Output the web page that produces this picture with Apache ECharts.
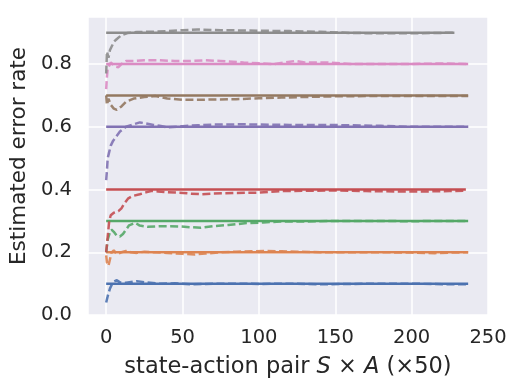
<!DOCTYPE html>
<html>
<head>
<meta charset="utf-8">
<script src="https://cdn.jsdelivr.net/npm/echarts@6/dist/echarts.min.js"></script>
<style>
  html, body { margin: 0; padding: 0; background: #fff; }
  #main { width: 519px; height: 392px; }
</style>
</head>
<body>
<div id="main"></div>
<script>
// true error rates (solid lines) and where each solid line stops
var trueRates = [0.1, 0.2, 0.3, 0.4, 0.6, 0.7, 0.8, 0.9];
var trueEnds = [237, 237, 237, 235.5, 237, 237, 237, 228];
var colors = ['#4C72B0', '#DD8452', '#55A868', '#C44E52', '#8172B3', '#937860', '#DA8BC3', '#8C8C8C'];

// estimated error rates (dashed), [state-action pair, estimate]
var estBlue = [[0,0.04],[1,0.06],[2.5,0.085],[4.5,0.105],[7,0.111],[9,0.104],[13,0.103],[20,0.108],[26,0.104],[35,0.1],[45,0.101],[55,0.098],[65,0.099],[80,0.1],[100,0.099],[120,0.1],[140,0.098],[160,0.099],[180,0.1],[200,0.1],[220,0.098],[237,0.098]];
var estOrange = [[0,0.19],[0.5,0.168],[1.5,0.157],[2.5,0.178],[3.5,0.199],[5,0.206],[7,0.194],[10,0.2],[13,0.204],[16,0.2],[20,0.198],[25,0.202],[30,0.2],[40,0.198],[50,0.195],[58,0.193],[65,0.196],[75,0.2],[85,0.202],[95,0.203],[105,0.204],[115,0.203],[125,0.202],[140,0.2],[160,0.2],[180,0.2],[200,0.199],[215,0.197],[225,0.199],[237,0.2]];
var estGreen = [[0,0.2],[1,0.24],[2.5,0.265],[3.5,0.272],[5,0.265],[7,0.252],[9,0.25],[11,0.258],[13,0.272],[15,0.286],[17,0.29],[19,0.294],[22,0.285],[27,0.281],[36,0.283],[42,0.283],[49,0.282],[55,0.28],[62,0.278],[70,0.283],[80,0.287],[92,0.293],[103,0.295],[114,0.298],[130,0.298],[150,0.3],[170,0.3],[200,0.299],[220,0.3],[237,0.3]];
var estRed = [[0,0.2],[1,0.25],[2,0.3],[3,0.318],[5,0.326],[8,0.331],[10,0.34],[12,0.356],[14.5,0.372],[17,0.379],[22,0.385],[26,0.391],[30,0.396],[34,0.394],[40,0.391],[48,0.39],[55,0.387],[62,0.385],[70,0.387],[85,0.389],[100,0.39],[115,0.395],[130,0.396],[150,0.397],[170,0.395],[190,0.394],[210,0.394],[225,0.395],[235.5,0.396]];
var estPurple = [[0,0.43],[0.5,0.46],[1,0.5],[2,0.52],[3,0.54],[4.5,0.555],[6,0.565],[9,0.585],[13,0.6],[18,0.608],[22,0.614],[26,0.611],[31,0.606],[35,0.603],[40,0.598],[50,0.602],[60,0.605],[70,0.607],[90,0.608],[100,0.607],[120,0.606],[140,0.606],[160,0.605],[180,0.603],[200,0.6],[220,0.6],[237,0.6]];
var estBrown = [[0,0.7],[0.5,0.67],[1.5,0.69],[3,0.67],[5,0.658],[7,0.654],[10,0.665],[13,0.68],[18,0.69],[25,0.695],[32,0.698],[40,0.69],[50,0.686],[60,0.686],[70,0.687],[85,0.688],[100,0.691],[115,0.693],[130,0.695],[150,0.697],[170,0.698],[200,0.698],[237,0.698]];
var estPink = [[0,0.72],[0.5,0.76],[1,0.785],[2,0.795],[3,0.805],[4,0.8],[6,0.792],[8,0.79],[10,0.8],[13,0.81],[18,0.81],[25,0.812],[35,0.812],[45,0.81],[55,0.81],[65,0.812],[75,0.81],[90,0.805],[110,0.8],[124,0.81],[130,0.805],[145,0.805],[160,0.8],[180,0.8],[200,0.8],[220,0.802],[237,0.8]];
var estGray = [[0,0.77],[0.5,0.84],[1.5,0.82],[2.5,0.845],[4,0.86],[5,0.871],[7,0.88],[10,0.892],[14,0.899],[20,0.902],[30,0.903],[40,0.905],[50,0.908],[60,0.91],[75,0.908],[90,0.907],[105,0.906],[120,0.905],[140,0.903],[160,0.899],[180,0.898],[200,0.898],[215,0.899],[228,0.9]];
var estimates = [estBlue, estOrange, estGreen, estRed, estPurple, estBrown, estPink, estGray];

var yTicks = [0, 0.2, 0.4, 0.6, 0.8];

var chartDom = document.getElementById('main');
var myChart = echarts.init(chartDom);
var option;

var series = [];
trueRates.forEach(function (r, i) {
    series.push({
        type: 'line',
        data: [[0, r], [trueEnds[i], r]],
        showSymbol: false,
        lineStyle: { color: colors[i], width: 2.5 }
    });
    series.push({
        type: 'line',
        data: estimates[i],
        showSymbol: false,
        lineStyle: { color: colors[i], width: 2.5, type: [8, 3.5], opacity: 0.9 }
    });
});

var font = 'DejaVu Sans';

option = {
    animation: false,
    grid: {
        left: 87,
        right: 31,
        top: 17,
        bottom: 77,
        show: true,
        backgroundColor: '#EAEAF2',
        borderWidth: 0
    },
    xAxis: {
        type: 'value',
        min: -11.9,
        max: 250,
        splitNumber: 5,
        name: 'state-action pair {i|S} × {i|A} (×50)',
        nameLocation: 'middle',
        nameGap: 41,
        nameTextStyle: {
            color: '#262626',
            fontFamily: font,
            fontSize: 22.5,
            rich: {
                i: { fontStyle: 'italic', fontFamily: font, fontSize: 22.5, color: '#262626' }
            }
        },
        axisLine: { show: false },
        axisTick: { show: false },
        axisLabel: {
            showMinLabel: false,
            color: '#262626',
            fontFamily: font,
            fontSize: 19.5,
            margin: 13
        },
        splitLine: { lineStyle: { color: '#ffffff', width: 1.5 } }
    },
    yAxis: {
        type: 'value',
        min: 0,
        max: 0.95,
        interval: 0.2,
        name: 'Estimated error rate',
        nameLocation: 'middle',
        nameGap: 58,
        nameTextStyle: {
            color: '#262626',
            fontFamily: font,
            fontSize: 21.5,
            padding: [0, 0, 0, 20]
        },
        axisLine: { show: false },
        axisTick: { show: false },
        axisLabel: {
            showMaxLabel: false,
            color: '#262626',
            fontFamily: font,
            fontSize: 19.5,
            margin: 16,
            formatter: function (v) {
                return yTicks.indexOf(Math.round(v * 10) / 10) >= 0 ? v.toFixed(1) : '';
            }
        },
        splitLine: { lineStyle: { color: '#ffffff', width: 1.5 } }
    },
    series: series
};

option && myChart.setOption(option);
</script>
</body>
</html>
